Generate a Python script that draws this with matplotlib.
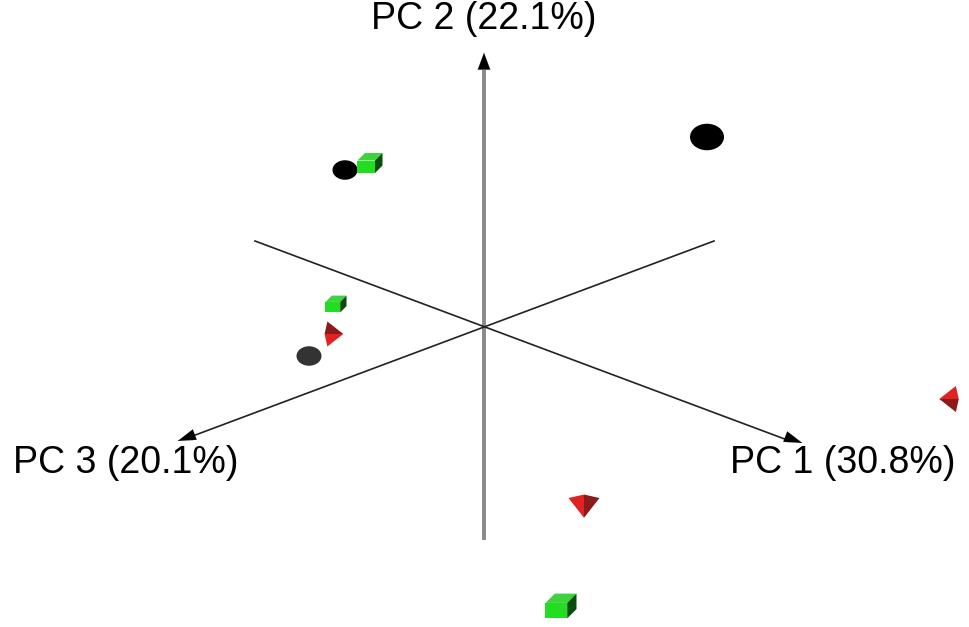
import matplotlib
matplotlib.use('Agg')
import matplotlib.pyplot as plt
import numpy as np
from matplotlib.patches import Polygon, Ellipse

# projected sample positions (screen space, y grows downward)
sample_x = [345, 370, 707, 336, 333, 309, 950, 584, 561]
sample_y = [170, 163, 137, 304, 334, 356, 399, 505, 606]
sample_shape = ['sphere', 'cube', 'sphere', 'cube', 'tetra', 'sphere', 'tetra', 'tetra', 'cube']
sample_size = [25, 25, 34, 21, 25, 25, 26, 31, 31]
sample_color = ['#000000', '#22dd22', '#000000', '#22dd22', '#e02222', '#333333',
                '#e02222', '#e02222', '#22dd22']
tetra_angle = [0, 0, 0, 0, -90, 0, 90, 0, 0]

axis_labels = ['PC 1 (30.8%)', 'PC 2 (22.1%)', 'PC 3 (20.1%)']

origin = (484, 327)


def draw_sphere(ax, x, y, w, color):
    ax.add_patch(Ellipse((x, y), w, w * 0.78, facecolor=color, edgecolor='none', zorder=3))


def draw_cube(ax, x, y, w, color):
    h = w * 0.8
    o = w * 0.3
    front = [(x - w/2, y - h/2 + o), (x + w/2 - o, y - h/2 + o), (x + w/2 - o, y + h/2), (x - w/2, y + h/2)]
    top = [(x - w/2, y - h/2 + o), (x - w/2 + o, y - h/2), (x + w/2, y - h/2), (x + w/2 - o, y - h/2 + o)]
    side = [(x + w/2 - o, y - h/2 + o), (x + w/2, y - h/2), (x + w/2, y + h/2 - o), (x + w/2 - o, y + h/2)]
    ax.add_patch(Polygon(front, closed=True, facecolor=color, edgecolor='none', zorder=3))
    ax.add_patch(Polygon(top, closed=True, facecolor='#3fd23f', edgecolor='none', zorder=3))
    ax.add_patch(Polygon(side, closed=True, facecolor='#0b4d0b', edgecolor='none', zorder=3))


def draw_tetra(ax, x, y, w, color, angle):
    h = w * 0.75
    left = [(-w/2, -h*0.3), (0, -h*0.45), (0, h*0.55)]
    right = [(0, -h*0.45), (w/2, -h*0.3), (0, h*0.55)]
    t = np.deg2rad(angle)
    c, s = np.cos(t), np.sin(t)

    def rot(pts):
        return [(x + px*c - py*s, y + px*s + py*c) for px, py in pts]
    ax.add_patch(Polygon(rot(left), closed=True, facecolor=color, edgecolor='none', zorder=3))
    ax.add_patch(Polygon(rot(right), closed=True, facecolor='#8c1a1a', edgecolor='none', zorder=3))


fig = plt.figure(figsize=(9.7, 6.27), dpi=100)
ax = fig.add_axes([0, 0, 1, 1])
ax.set_xlim(0, 970)
ax.set_ylim(627, 0)
ax.axis('off')

# axes of the 3D view
ox, oy = origin
ax.plot([ox, ox], [540, 70], color='#8a8a8a', lw=2.8, solid_capstyle='butt', zorder=1)
ax.annotate('', xy=(ox, 50), xytext=(ox, 72),
            arrowprops=dict(arrowstyle='-|>,head_length=1.2,head_width=0.45', color='black', lw=0.1))
ax.plot([255, 790], [241, 441], color='#222222', lw=1.2, zorder=1)
ax.annotate('', xy=(805, 444), xytext=(785, 436.5),
            arrowprops=dict(arrowstyle='-|>,head_length=1.3,head_width=0.4', color='black', lw=0.1))
ax.plot([714, 190], [241, 437], color='#222222', lw=1.2, zorder=1)
ax.annotate('', xy=(175, 442), xytext=(195, 434.5),
            arrowprops=dict(arrowstyle='-|>,head_length=1.3,head_width=0.4', color='black', lw=0.1))

ax.text(843, 463, axis_labels[0], fontsize=27, ha='center', va='center', family='Liberation Sans')
ax.text(484, 19, axis_labels[1], fontsize=27, ha='center', va='center', family='Liberation Sans')
ax.text(126, 463, axis_labels[2], fontsize=27, ha='center', va='center', family='Liberation Sans')

for i in range(len(sample_x)):
    if sample_shape[i] == 'sphere':
        draw_sphere(ax, sample_x[i], sample_y[i], sample_size[i], sample_color[i])
    elif sample_shape[i] == 'cube':
        draw_cube(ax, sample_x[i], sample_y[i], sample_size[i], sample_color[i])
    else:
        draw_tetra(ax, sample_x[i], sample_y[i], sample_size[i], sample_color[i], tetra_angle[i])

fig.savefig('out.png', dpi=100)
